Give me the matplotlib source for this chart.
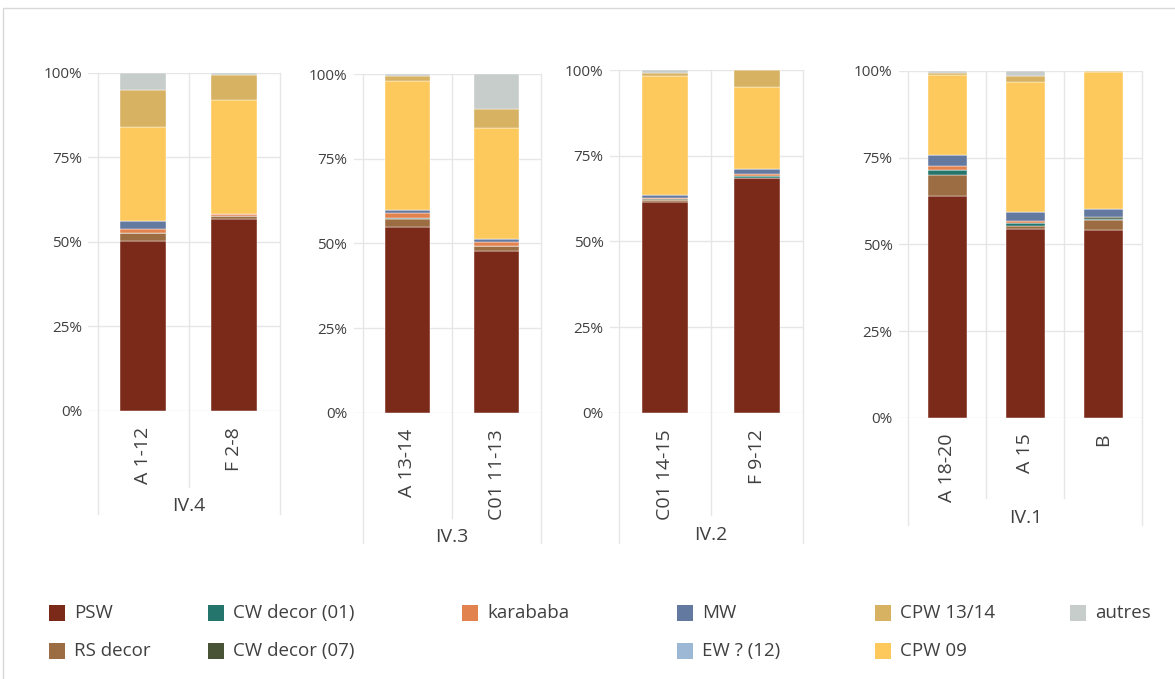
import matplotlib
matplotlib.use("Agg")
import matplotlib.pyplot as plt
from matplotlib.patches import Rectangle
from matplotlib.ticker import PercentFormatter
from matplotlib.transforms import blended_transform_factory
import numpy as np

plt.rcParams['font.family'] = ['Open Sans', 'DejaVu Sans']

# --- data (percent of sherds per sample, bottom to top) ---
groups = ["IV.4", "IV.3", "IV.2", "IV.1"]
samples = [["A 1-12", "F 2-8"],
           ["A 13-14", "C01 11-13"],
           ["C01 14-15", "F 9-12"],
           ["A 18-20", "A 15", "B"]]

series = ["PSW", "RS decor", "CW decor (01)", "CW decor (07)", "karababa",
          "MW", "EW ? (12)", "CPW 09", "CPW 13/14", "autres"]

# values in bar order: A 1-12, F 2-8, A 13-14, C01 11-13, C01 14-15, F 9-12, A 18-20, A 15, B
psw = [50.3, 56.7, 54.8, 47.9, 61.5, 68.4, 64.0, 54.4, 54.0]
rs_decor = [2.4, 0.8, 2.3, 1.3, 0.5, 0.0, 5.9, 0.8, 3.0]
cw_decor_01 = [0.0, 0.0, 0.5, 0.0, 0.0, 0.6, 1.5, 1.0, 0.4]
cw_decor_07 = [0.0, 0.0, 0.0, 0.0, 0.3, 0.0, 0.0, 0.0, 0.4]
karababa = [1.2, 0.6, 1.3, 1.1, 0.5, 0.8, 1.2, 0.5, 0.0]
mw = [2.2, 0.0, 1.0, 0.9, 0.7, 1.2, 3.3, 2.6, 2.3]
ew_12 = [0.0, 0.0, 0.0, 0.0, 0.0, 0.0, 0.0, 0.0, 0.0]
cpw_09 = [27.8, 33.7, 38.0, 32.8, 34.7, 24.1, 22.95, 37.4, 39.7]
cpw_13_14 = [11.1, 7.6, 1.6, 5.8, 1.0, 4.9, 0.45, 1.95, 0.2]
autres = [5.0, 0.6, 0.5, 10.2, 0.8, 0.0, 0.7, 1.35, 0.0]

colors = ["#7B2A1A", "#9C6C42", "#24766C", "#495336", "#E2824F",
          "#64799F", "#9DB8D5", "#FDC95C", "#D6B262", "#C7CDCA"]

values = np.array([psw, rs_decor, cw_decor_01, cw_decor_07, karababa,
                   mw, ew_12, cpw_09, cpw_13_14, autres])
values = values / values.sum(axis=0)  # 100% stacked

W, H = 1175, 679
fig = plt.figure(figsize=(W / 100, H / 100), dpi=100)

# frame around the chart area (right and bottom edges fall outside the image)
fig.add_artist(Rectangle((3 / W, -0.01), 1.0, 1 - 8 / H + 0.01,
                         transform=fig.transFigure, fill=False,
                         edgecolor="#D9D9D9", linewidth=1.0))

# panel layout in pixels: grid start, first category line, right, top, bottom,
# inner separator depth, outer separator depth, group label y
layout = [
    (88.3, 97.7, 279.7, 72.7, 411.0, 487, 514, 506),
    (353.5, 363.0, 541.0, 74.0, 413.0, 518, 543, 537),
    (610.0, 619.3, 803.3, 70.0, 413.0, 515, 543, 535),
    (899.0, 908.3, 1142.3, 71.0, 417.7, 498, 525, 518),
]

text_col = "#404040"
grid_col = "#E6E6E6"

start = 0
for g, (group, names) in enumerate(zip(groups, samples)):
    x0, xl, x1, top, bot, d_in, d_out, lab_y = layout[g]
    n = len(names)
    vals = values[:, start:start + n]
    start += n

    ax = fig.add_axes([x0 / W, 1 - bot / H, (x1 - x0) / W, (bot - top) / H])
    cat_w = (x1 - xl) / n
    ext = (xl - x0) / cat_w
    ax.set_xlim(-0.5 - ext, n - 0.5)
    ax.set_ylim(0, 1)

    x = np.arange(n)
    bottom = np.zeros(n)
    for i, s in enumerate(series):
        ax.bar(x, vals[i], width=0.5, bottom=bottom, color=colors[i],
               edgecolor="white", linewidth=0.3, zorder=3)
        bottom += vals[i]

    ax.set_yticks([0, 0.25, 0.5, 0.75, 1.0])
    ax.yaxis.set_major_formatter(PercentFormatter(1.0, decimals=0))
    ax.yaxis.grid(True, color=grid_col, linewidth=1.0, zorder=0)
    ax.tick_params(axis="y", length=0, pad=4.5, labelsize=11, labelcolor=text_col)
    ax.set_xticks(x)
    ax.set_xticklabels(names, rotation=90, va="top", ha="center")
    ax.tick_params(axis="x", length=0, pad=11.5, labelsize=14, labelcolor=text_col)
    for sp in ax.spines.values():
        sp.set_visible(False)

    # category separators, running below the axis into the label area
    trans = blended_transform_factory(ax.transData, ax.transAxes)
    h = bot - top
    for k in range(n + 1):
        depth = d_out if k in (0, n) else d_in
        ax.plot([k - 0.5, k - 0.5], [1, -(depth - bot) / h], transform=trans,
                color=grid_col, linewidth=1.0, clip_on=False, zorder=0)

    ax.text((n - 1) / 2, -(lab_y - bot) / h, group, transform=trans,
            ha="center", va="center", fontsize=14, color=text_col)

# legend placed like the original (column-wise, 6 columns, 2 rows)
legend_cols = [49, 208, 462, 677, 875, 1070]
legend_rows = [613, 651]
legend_slots = [(0, 0), (0, 1), (1, 0), (1, 1), (2, 0),
                (3, 0), (3, 1), (4, 1), (4, 0), (5, 0)]
for i, s in enumerate(series):
    c, r = legend_slots[i]
    lx, ly = legend_cols[c], legend_rows[r]
    fig.add_artist(Rectangle((lx / W, 1 - (ly + 8) / H), 16 / W, 16 / H,
                             transform=fig.transFigure, facecolor=colors[i],
                             edgecolor="none"))
    fig.text((lx + 25) / W, 1 - ly / H, s, ha="left", va="center",
             fontsize=13.5, color=text_col)

fig.savefig("out.png", dpi=100)
